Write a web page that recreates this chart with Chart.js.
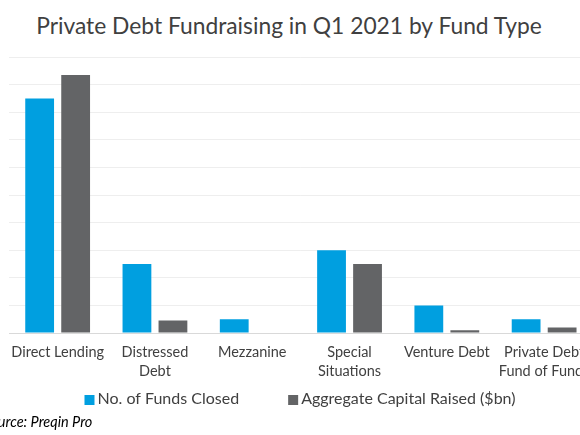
<!DOCTYPE html>
<html>
<head>
<meta charset="utf-8">
<script src="https://cdn.jsdelivr.net/npm/chart.js@4"></script>
<style>
  html, body { margin: 0; padding: 0; background: #fff; }
  body { width: 580px; height: 435px; overflow: hidden; position: relative; font-family: Lato, sans-serif; color: #404040; }
  #title { position: absolute; left: 0; width: 578px; top: 11px; text-align: center; font-size: 22.8px; }
  #box { position: absolute; left: 0; top: 40px; width: 600px; height: 375px; }
  #source { position: absolute; left: -17px; top: 413px; font-size: 14.5px; font-style: italic; color: #000; }
</style>
</head>
<body>
<div id="title">Private Debt Fundraising in Q1 2021 by Fund Type</div>
<div id="box"><canvas id="myChart"></canvas></div>
<div id="source">Source: Preqin Pro</div>
<script>
var fundTypes = [
    'Direct Lending',
    ['Distressed', 'Debt'],
    'Mezzanine',
    ['Special', 'Situations'],
    'Venture Debt',
    ['Private Debt', 'Fund of Funds']
];
var fundsClosed = [17, 5, 1, 6, 2, 1];
var capitalRaised = [18.7, 0.9, 0, 5.0, 0.2, 0.4];

// legend drawn in one row under the axis, excel style (small box, tight text)
var rowLegend = {
    id: 'rowLegend',
    afterDraw: function(chart) {
        var c = chart.ctx;
        var sets = chart.data.datasets;
        var box = 10, gap = 3, itemGap = 49;
        c.save();
        c.font = '16px Lato';
        c.textBaseline = 'middle';
        var total = 0;
        sets.forEach(function(ds, i) {
            total += box + gap + c.measureText(ds.label).width + (i ? itemGap : 0);
        });
        var x = 300 - total / 2;
        var y = 359;
        sets.forEach(function(ds) {
            c.fillStyle = ds.backgroundColor;
            c.fillRect(x, y - 4, box, box);
            x += box + gap;
            c.fillStyle = '#404040';
            c.fillText(ds.label, x, y);
            x += c.measureText(ds.label).width + itemGap;
        });
        c.restore();
    }
};

var ctx = document.getElementById('myChart').getContext('2d');
var myChart = new Chart(ctx, {
    type: 'bar',
    data: {
        labels: fundTypes,
        datasets: [{
            label: 'No. of Funds Closed',
            data: fundsClosed,
            backgroundColor: '#009fe0',
        }, {
            label: 'Aggregate Capital Raised ($bn)',
            data: capitalRaised,
            backgroundColor: '#636466',
        }]
    },
    plugins: [rowLegend],
    options: {
        responsive: true,
        maintainAspectRatio: false,
        animation: false,
        layout: { padding: { left: 9, right: 6, top: 17, bottom: 32 } },
        categoryPercentage: 0.74,
        barPercentage: 0.8,
        plugins: {
            legend: { display: false },
            tooltip: { enabled: false }
        },
        scales: {
            x: {
                grid: { display: false, drawTicks: false },
                border: { color: '#d9d9d9', width: 1 },
                ticks: { padding: 10, color: '#404040', font: { family: 'Lato', size: 14.5, lineHeight: 1.31 }, maxRotation: 0, autoSkip: false },
                afterFit: function(scale) { scale.height = 50; }
            },
            y: {
                min: 0, max: 20,
                ticks: { display: false, stepSize: 2 },
                grid: { color: '#eeeeee', drawTicks: false },
                border: { display: false }
            }
        }
    }
});
</script>
</body>
</html>
